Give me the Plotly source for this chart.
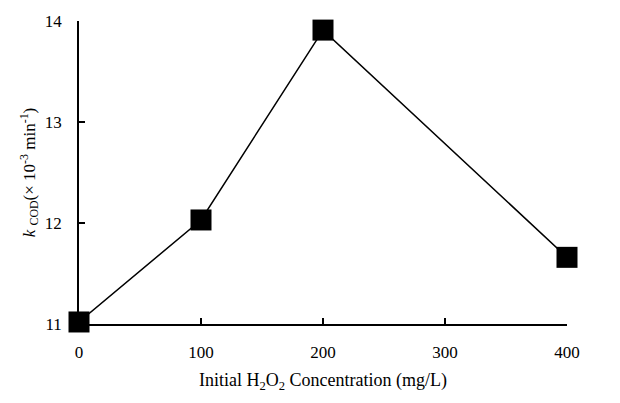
import plotly.graph_objects as go

# Initial H2O2 dose (mg/L) and the fitted COD rate constant (x10^-3 min^-1)
h2o2_dose = [0, 100, 200, 400]
k_cod = [11.02, 12.03, 13.91, 11.66]

x_ticks = [0, 100, 200, 300, 400]
y_ticks = [11, 12, 13, 14]

font_family = "Liberation Serif, Times New Roman, serif"

fig = go.Figure()
fig.add_trace(go.Scatter(
    x=h2o2_dose,
    y=k_cod,
    mode="lines+markers",
    line=dict(color="black", width=1.5),
    marker=dict(symbol="square", size=21, color="black"),
    cliponaxis=False,
    showlegend=False,
))

axis_common = dict(
    ticks="inside",
    ticklen=6,
    tickwidth=1.5,
    tickcolor="black",
    showline=True,
    linecolor="black",
    linewidth=1.5,
    showgrid=False,
    zeroline=False,
    tickfont=dict(size=17),
)

fig.update_layout(
    width=620,
    height=403,
    margin=dict(l=79, r=53, t=21, b=79),
    paper_bgcolor="white",
    plot_bgcolor="white",
    font=dict(family=font_family, color="black", size=17),
    xaxis=dict(
        range=[0, 400],
        tickvals=x_ticks,
        ticklabelstandoff=12,
        title=dict(
            text="Initial H<sub>2</sub>O<sub>2</sub> Concentration (mg/L)",
            font=dict(size=18),
            standoff=12,
        ),
        **axis_common,
    ),
    yaxis=dict(
        range=[11, 14],
        tickvals=y_ticks,
        ticklabelstandoff=12,
        title=dict(
            text="<i>k</i> <sub>COD</sub>(× 10<sup>-3</sup> min<sup>-1</sup>)",
            font=dict(size=17),
            standoff=5,
        ),
        **axis_common,
    ),
)

fig.write_html("out.html")
